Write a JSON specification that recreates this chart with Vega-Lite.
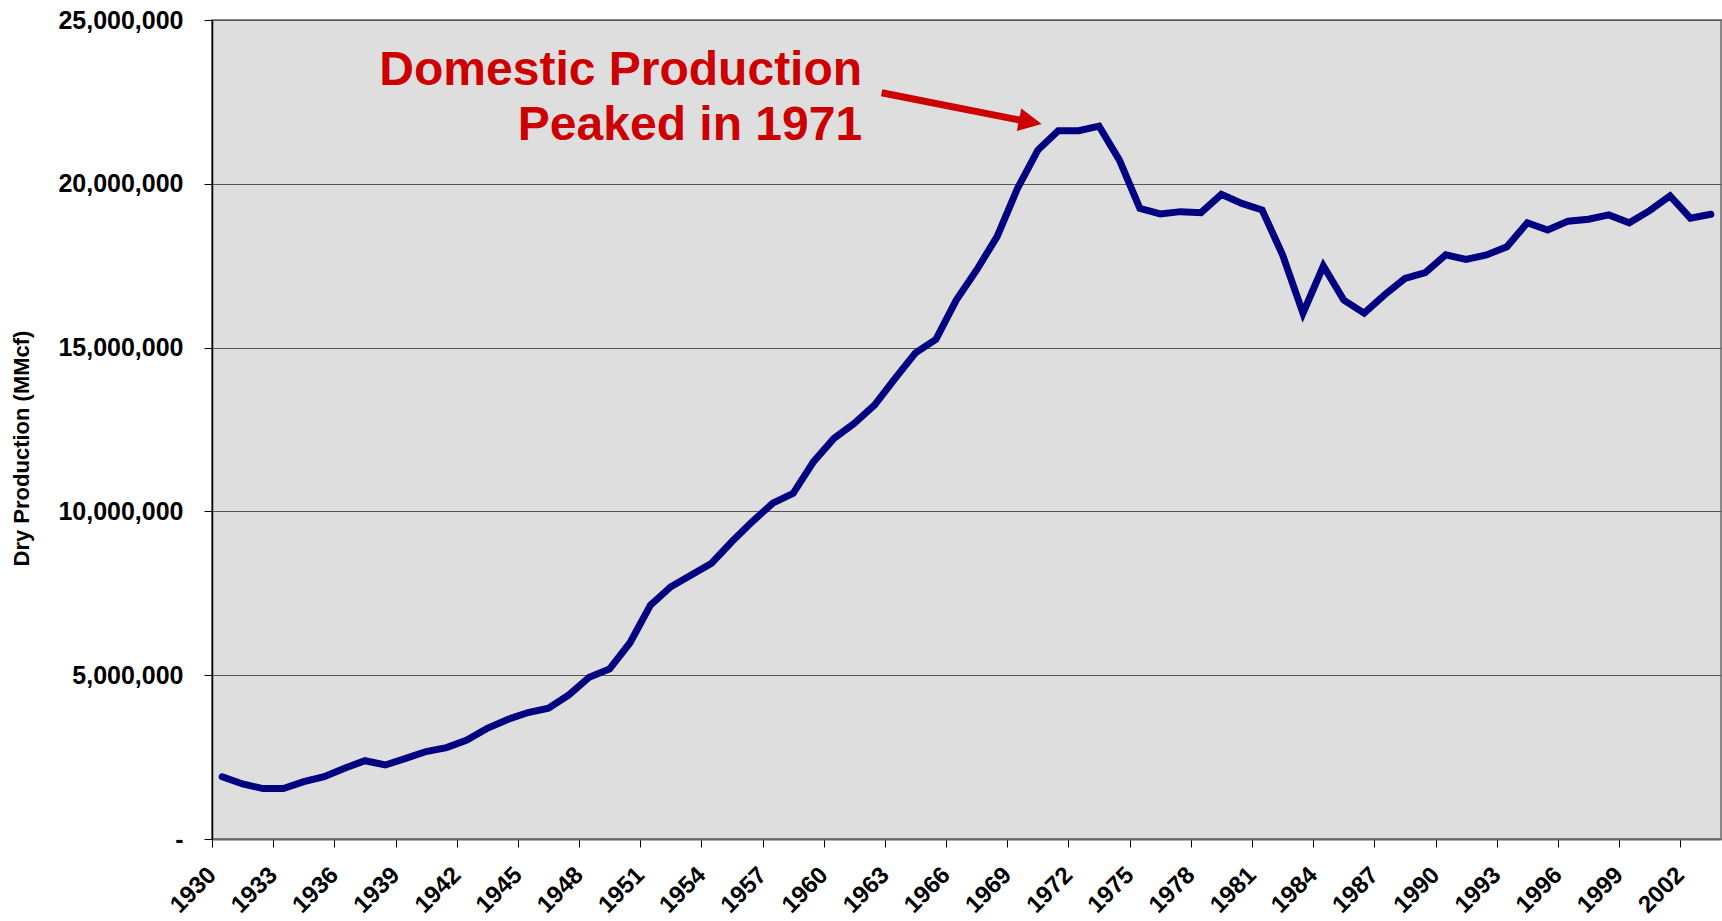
{
  "$schema": "https://vega.github.io/schema/vega-lite/v6.json",
  "width": 1509,
  "height": 819,
  "autosize": "none",
  "padding": {"left": 212, "top": 20, "right": 1, "bottom": 82},
  "background": "white",
  "config": {
    "view": {"fill": "#DEDEDE", "stroke": "#888888", "strokeWidth": 2},
    "font": "Liberation Sans"
  },
  "layer": [
    {
      "data": {"values": [
        {"year": 1930, "value": 1900000}, {"year": 1931, "value": 1680000}, {"year": 1932, "value": 1540000},
        {"year": 1933, "value": 1540000}, {"year": 1934, "value": 1750000}, {"year": 1935, "value": 1900000},
        {"year": 1936, "value": 2160000}, {"year": 1937, "value": 2390000}, {"year": 1938, "value": 2260000},
        {"year": 1939, "value": 2460000}, {"year": 1940, "value": 2670000}, {"year": 1941, "value": 2790000},
        {"year": 1942, "value": 3020000}, {"year": 1943, "value": 3380000}, {"year": 1944, "value": 3650000},
        {"year": 1945, "value": 3860000}, {"year": 1946, "value": 3990000}, {"year": 1947, "value": 4400000},
        {"year": 1948, "value": 4940000}, {"year": 1949, "value": 5190000}, {"year": 1950, "value": 5990000},
        {"year": 1951, "value": 7140000}, {"year": 1952, "value": 7700000}, {"year": 1953, "value": 8060000},
        {"year": 1954, "value": 8420000}, {"year": 1955, "value": 9080000}, {"year": 1956, "value": 9690000},
        {"year": 1957, "value": 10250000}, {"year": 1958, "value": 10550000}, {"year": 1959, "value": 11520000},
        {"year": 1960, "value": 12230000}, {"year": 1961, "value": 12690000}, {"year": 1962, "value": 13250000},
        {"year": 1963, "value": 14060000}, {"year": 1964, "value": 14840000}, {"year": 1965, "value": 15250000},
        {"year": 1966, "value": 16450000}, {"year": 1967, "value": 17370000}, {"year": 1968, "value": 18390000},
        {"year": 1969, "value": 19860000}, {"year": 1970, "value": 21030000}, {"year": 1971, "value": 21620000},
        {"year": 1972, "value": 21620000}, {"year": 1973, "value": 21760000}, {"year": 1974, "value": 20720000},
        {"year": 1975, "value": 19250000}, {"year": 1976, "value": 19080000}, {"year": 1977, "value": 19150000},
        {"year": 1978, "value": 19120000}, {"year": 1979, "value": 19680000}, {"year": 1980, "value": 19400000},
        {"year": 1981, "value": 19200000}, {"year": 1982, "value": 17830000}, {"year": 1983, "value": 16050000},
        {"year": 1984, "value": 17490000}, {"year": 1985, "value": 16450000}, {"year": 1986, "value": 16050000},
        {"year": 1987, "value": 16610000}, {"year": 1988, "value": 17110000}, {"year": 1989, "value": 17290000},
        {"year": 1990, "value": 17830000}, {"year": 1991, "value": 17690000}, {"year": 1992, "value": 17830000},
        {"year": 1993, "value": 18080000}, {"year": 1994, "value": 18810000}, {"year": 1995, "value": 18590000},
        {"year": 1996, "value": 18860000}, {"year": 1997, "value": 18920000}, {"year": 1998, "value": 19050000},
        {"year": 1999, "value": 18810000}, {"year": 2000, "value": 19180000}, {"year": 2001, "value": 19630000},
        {"year": 2002, "value": 18950000}, {"year": 2003, "value": 19070000}
      ]},
      "mark": {"type": "line", "color": "#000080", "strokeWidth": 7, "strokeJoin": "miter", "strokeCap": "round"},
      "encoding": {
        "x": {
          "field": "year", "type": "quantitative",
          "scale": {"domain": [1929.5, 2003.5], "nice": false, "zero": false},
          "axis": {
            "title": null,
            "values": [1929.5, 1932.5, 1935.5, 1938.5, 1941.5, 1944.5, 1947.5, 1950.5, 1953.5, 1956.5, 1959.5, 1962.5, 1965.5, 1968.5, 1971.5, 1974.5, 1977.5, 1980.5, 1983.5, 1986.5, 1989.5, 1992.5, 1995.5, 1998.5, 2001.5],
            "labelExpr": "format(datum.value + 0.5, 'd')",
            "labelAngle": -45, "labelAlign": "right", "labelBaseline": "middle",
            "labelFont": "Liberation Sans", "labelFontSize": 24, "labelFontWeight": "bold", "labelColor": "black",
            "labelPadding": 24, "labelOverlap": false, "labelFlush": false,
            "tickSize": 8, "tickColor": "black", "tickWidth": 1,
            "domainColor": "#666666", "domainWidth": 2, "grid": false
          }
        },
        "y": {
          "field": "value", "type": "quantitative",
          "scale": {"domain": [0, 25000000], "nice": false},
          "axis": {
            "title": "Dry Production (MMcf)",
            "titleFont": "Liberation Sans", "titleFontSize": 22, "titleFontWeight": "bold", "titleColor": "black",
            "titleAngle": -90, "titleX": -184, "titleY": 428, "titleAlign": "center", "titleBaseline": "alphabetic",
            "values": [0, 5000000, 10000000, 15000000, 20000000, 25000000],
            "labelExpr": "datum.value == 0 ? '-\u00a0\u00a0\u00a0\u00a0' : format(datum.value, ',')",
            "labelFont": "Liberation Sans", "labelFontSize": 25, "labelFontWeight": "bold", "labelColor": "black",
            "labelPadding": 21, "labelFlush": false,
            "tickSize": 8, "tickColor": "black",
            "domainColor": "black", "domainWidth": 1.5,
            "grid": true, "gridColor": "#555555", "gridWidth": 1.2
          }
        }
      }
    },
    {
      "data": {"values": [{"year": 1962.34, "value": 22780000, "year2": 1969.4, "value2": 21910000}]},
      "mark": {"type": "rule", "color": "#CC0000", "strokeWidth": 7, "strokeCap": "butt"},
      "encoding": {
        "x": {"field": "year", "type": "quantitative"},
        "y": {"field": "value", "type": "quantitative"},
        "x2": {"field": "year2"},
        "y2": {"field": "value2"}
      }
    },
    {
      "data": {"values": [{"year": 1969.63, "value": 21890000}]},
      "mark": {"type": "point", "shape": "M-1,-1L1,0L-1,1Z", "size": 529, "angle": 11.1, "filled": true, "color": "#CC0000", "opacity": 1, "strokeWidth": 0},
      "encoding": {
        "x": {"field": "year", "type": "quantitative"},
        "y": {"field": "value", "type": "quantitative"}
      }
    },
    {
      "data": {"values": [
        {"year": 1961.38, "value": 23020000, "label": "Domestic Production"},
        {"year": 1961.38, "value": 21340000, "label": "Peaked in 1971"}
      ]},
      "mark": {"type": "text", "align": "right", "baseline": "alphabetic", "font": "Liberation Sans", "fontSize": 48, "fontWeight": "bold", "color": "#CC0000"},
      "encoding": {
        "x": {"field": "year", "type": "quantitative"},
        "y": {"field": "value", "type": "quantitative"},
        "text": {"field": "label", "type": "nominal"}
      }
    }
  ]
}
